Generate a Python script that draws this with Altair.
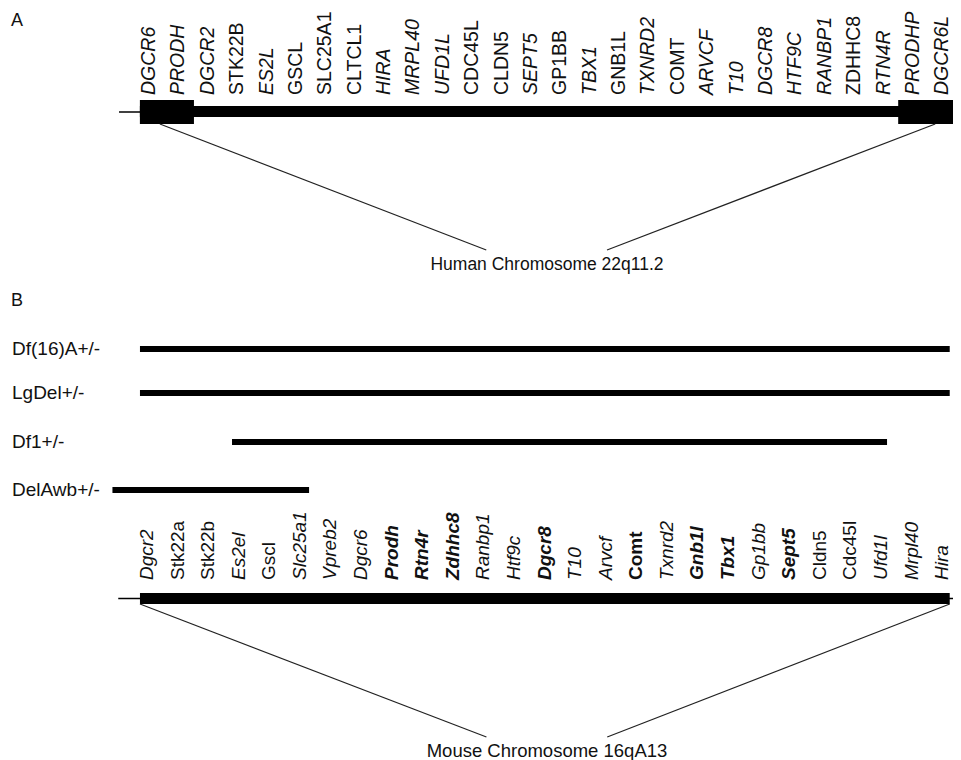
import altair as alt
import pandas as pd

# ---------------- data ----------------
human_genes = ["DGCR6", "PRODH", "DGCR2", "STK22B", "ES2L", "GSCL", "SLC25A1", "CLTCL1",
               "HIRA", "MRPL40", "UFD1L", "CDC45L", "CLDN5", "SEPT5", "GP1BB", "TBX1",
               "GNB1L", "TXNRD2", "COMT", "ARVCF", "T10", "DGCR8", "HTF9C", "RANBP1",
               "ZDHHC8", "RTN4R", "PRODHP", "DGCR6L"]
human_upright = ["STK22B", "GSCL", "SLC25A1", "CLTCL1", "CDC45L", "CLDN5", "GP1BB",
                 "GNB1L", "COMT", "ZDHHC8"]

mouse_genes = ["Dgcr2", "Stk22a", "Stk22b", "Es2el", "Gscl", "Slc25a1", "Vpreb2", "Dgcr6",
               "Prodh", "Rtn4r", "Zdhhc8", "Ranbp1", "Htf9c", "Dgcr8", "T10", "Arvcf",
               "Comt", "Txnrd2", "Gnb1l", "Tbx1", "Gp1bb", "Sept5", "Cldn5", "Cdc45l",
               "Ufd1l", "Mrpl40", "Hira"]
mouse_bold = ["Prodh", "Rtn4r", "Zdhhc8", "Dgcr8", "Comt", "Gnb1l", "Tbx1", "Sept5"]
mouse_upright = ["Stk22a", "Stk22b", "Gscl", "Comt", "Cldn5", "Cdc45l"]

strains = ["Df(16)A+/-", "LgDel+/-", "Df1+/-", "DelAwb+/-"]
strain_start = [-0.23, -0.23, 2.78, -1.13]   # in mouse gene-index units
strain_end = [26.25, 26.25, 24.2, 5.3]

# human chromosome features (human gene-index units)
human_line = [-1.02, 27.8]
human_bar = [-0.31, 27.37]
human_lcr_start = [-0.31, 25.5]
human_lcr_end = [1.53, 27.37]
human_proj_from = [0.37, 26.76]
human_proj_to = [11.48, 15.59]

# mouse chromosome features (mouse gene-index units)
mouse_line = [-0.94, 26.6]
mouse_bar = [-0.23, 26.25]
mouse_proj_from = [-0.23, 26.25]
mouse_proj_to = [11.1, 15.05]

human_title = "Human Chromosome 22q11.2"
mouse_title = "Mouse Chromosome 16qA13"

# ---------------- layout ----------------
W, H = 945, 752
FONT = "Liberation Sans"
HX0, HSTEP = 141, 29.38
MX0, MSTEP = 139, 30.58
hdom = [-HX0 / HSTEP, (W - HX0) / HSTEP]
mdom = [-MX0 / MSTEP, (W - MX0) / MSTEP]


def X(field, dom):
    return alt.X(f"{field}:Q", scale=alt.Scale(domain=dom, nice=False, zero=False), axis=None)


# tables
hg = pd.DataFrame({"gene": human_genes, "pos": range(len(human_genes))})
hg["style"] = ["normal" if g in human_upright else "italic" for g in human_genes]

mg = pd.DataFrame({"gene": mouse_genes, "pos": range(len(mouse_genes))})
mg["style"] = ["normal" if g in mouse_upright else "italic" for g in mouse_genes]
mg["weight"] = ["bold" if g in mouse_bold else "normal" for g in mouse_genes]

hline = pd.DataFrame({"a": [human_line[0]], "b": [human_line[1]]})
hbar = pd.DataFrame({"a": [human_bar[0]], "b": [human_bar[1]]})
hlcr = pd.DataFrame({"a": human_lcr_start, "b": human_lcr_end})
hproj = pd.DataFrame({"a": human_proj_from, "b": human_proj_to})

mline = pd.DataFrame({"a": [mouse_line[0]], "b": [mouse_line[1]]})
mbar = pd.DataFrame({"a": [mouse_bar[0]], "b": [mouse_bar[1]]})
mproj = pd.DataFrame({"a": mouse_proj_from, "b": mouse_proj_to})

dels = pd.DataFrame({"strain": strains, "a": strain_start, "b": strain_end,
                     "row": range(len(strains))})
row_scale = alt.Scale(domain=[0, 1, 2, 3], range=[341, 385, 434, 482])

layers = []

# ---- Panel A ----
layers.append(alt.Chart(hline).mark_rule(color="black", strokeWidth=1.5).encode(
    x=X("a", hdom), x2="b", y=alt.value(104)))
layers.append(alt.Chart(hbar).mark_rect(color="black").encode(
    x=X("a", hdom), x2="b", y=alt.value(98), y2=alt.value(109)))
layers.append(alt.Chart(hlcr).mark_rect(color="black").encode(
    x=X("a", hdom), x2="b", y=alt.value(92), y2=alt.value(116)))
layers.append(alt.Chart(hproj).mark_rule(color="#222222", strokeWidth=1.2).encode(
    x=X("a", hdom), x2="b", y=alt.value(116), y2=alt.value(242)))
for st in ["italic", "normal"]:
    layers.append(alt.Chart(hg).transform_filter(alt.datum.style == st).mark_text(
        angle=270, align="left", baseline="middle", font=FONT, fontSize=19.5,
        fontStyle=st, color="#111111").encode(
        x=X("pos", hdom), y=alt.value(87), text="gene:N"))

# ---- Panel B ----
layers.append(alt.Chart(dels).mark_rule(color="black", strokeWidth=6, strokeCap="butt").encode(
    x=X("a", mdom), x2="b", y=alt.Y("row:Q", scale=row_scale, axis=None)))
layers.append(alt.Chart(dels).mark_text(
    align="left", baseline="middle", font=FONT, fontSize=19, color="#111111").encode(
    x=alt.value(4), y=alt.Y("row:Q", scale=row_scale, axis=None), text="strain:N"))
layers.append(alt.Chart(mline).mark_rule(color="black", strokeWidth=1.5).encode(
    x=X("a", mdom), x2="b", y=alt.value(590.5)))
layers.append(alt.Chart(mbar).mark_rect(color="black").encode(
    x=X("a", mdom), x2="b", y=alt.value(585), y2=alt.value(596)))
layers.append(alt.Chart(mproj).mark_rule(color="#222222", strokeWidth=1.2).encode(
    x=X("a", mdom), x2="b", y=alt.value(596), y2=alt.value(729)))
for st in ["italic", "normal"]:
    for wt in ["normal", "bold"]:
        layers.append(alt.Chart(mg).transform_filter(
            (alt.datum.style == st) & (alt.datum.weight == wt)).mark_text(
            angle=270, align="left", baseline="middle", font=FONT, fontSize=19,
            fontStyle=st, fontWeight=wt, color="#111111").encode(
            x=X("pos", mdom), y=alt.value(572), text="gene:N"))

# ---- titles / panel letters ----
texts = pd.DataFrame({"t": [human_title]})
layers.append(alt.Chart(texts).mark_text(
    align="center", baseline="alphabetic", font=FONT, fontSize=17.5, color="#111111").encode(
    x=alt.value(539), y=alt.value(262), text="t:N"))
texts2 = pd.DataFrame({"t": [mouse_title]})
layers.append(alt.Chart(texts2).mark_text(
    align="center", baseline="alphabetic", font=FONT, fontSize=18.5, color="#111111").encode(
    x=alt.value(539), y=alt.value(749), text="t:N"))
letters = pd.DataFrame({"t": ["A", "B"], "yy": [0, 1]})
layers.append(alt.Chart(letters).mark_text(
    align="left", baseline="alphabetic", font=FONT, fontSize=18, color="#111111").encode(
    x=alt.value(3),
    y=alt.Y("yy:Q", scale=alt.Scale(domain=[0, 1], range=[18, 298]), axis=None),
    text="t:N"))

chart = alt.layer(*layers).resolve_scale(x="independent", y="independent").properties(
    width=W, height=H, autosize=alt.AutoSizeParams(type="none"), padding=0,
    background="white"
).configure_view(stroke=None)

chart.save("out.html", embed_options={"renderer": "svg", "actions": False})
